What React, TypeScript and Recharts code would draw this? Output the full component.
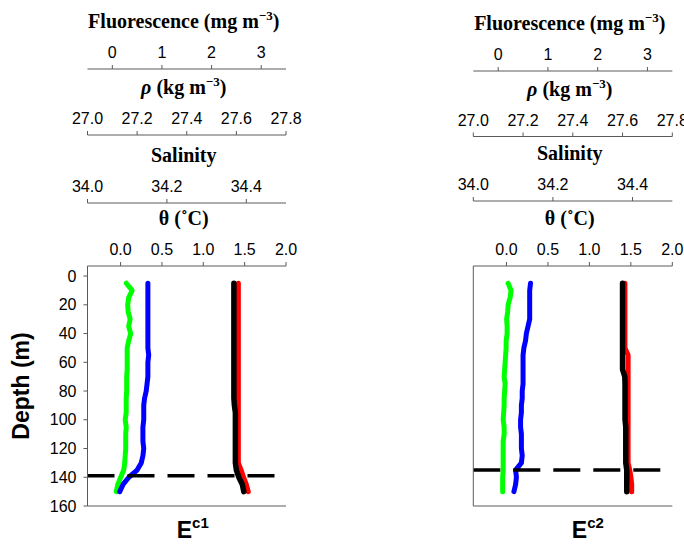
import React from "react";
import { LineChart, Line, XAxis, YAxis, ReferenceLine } from "recharts";

// depth (m) of each sample
const depths = [
  5, 10, 15, 20, 25, 30, 35, 40, 45, 50, 55, 60, 65, 70, 75, 80, 85, 90, 95,
  100, 105, 110, 115, 120, 125, 130, 135, 140, 145, 150,
];

// station E^c1
const fluorE1 = [
  0.28, 0.4, 0.33, 0.31, 0.32, 0.36, 0.33, 0.37, 0.33, 0.3, 0.3, 0.3, 0.3,
  0.29, 0.29, 0.29, 0.28, 0.28, 0.28, 0.26, 0.28, 0.27, 0.27, 0.27, 0.26, 0.25,
  0.23, 0.17, 0.11, 0.08,
];
const thetaE1 = [
  0.33, 0.33, 0.33, 0.33, 0.33, 0.33, 0.33, 0.33, 0.33, 0.33, 0.34, 0.33, 0.33,
  0.33, 0.32, 0.31, 0.29, 0.28, 0.28, 0.28, 0.27, 0.27, 0.27, 0.28, 0.27, 0.25,
  0.2, 0.1, 0.03, -0.01,
];
const rhoE1 = [
  27.59, 27.59, 27.59, 27.59, 27.59, 27.59, 27.59, 27.59, 27.59, 27.59, 27.59,
  27.59, 27.59, 27.59, 27.59, 27.59, 27.59, 27.592, 27.596, 27.596, 27.596,
  27.596, 27.596, 27.596, 27.596, 27.596, 27.6, 27.61, 27.624, 27.63,
];
const salE1 = [
  34.38, 34.38, 34.38, 34.38, 34.38, 34.38, 34.38, 34.38, 34.38, 34.38, 34.38,
  34.38, 34.38, 34.38, 34.38, 34.38, 34.38, 34.38, 34.38, 34.38, 34.38, 34.38,
  34.38, 34.38, 34.38, 34.38, 34.387, 34.393, 34.4, 34.405,
];

// station E^c2
const fluorE2 = [
  0.2, 0.26, 0.24, 0.2, 0.19, 0.17, 0.18, 0.18, 0.16, 0.16, 0.15, 0.14, 0.13,
  0.12, 0.14, 0.13, 0.12, 0.12, 0.11, 0.1, 0.12, 0.12, 0.1, 0.1, 0.1, 0.1, 0.1,
  0.09, 0.09, 0.09,
];
const thetaE2 = [
  0.29, 0.28, 0.28, 0.28, 0.28, 0.28, 0.26, 0.24, 0.23, 0.21, 0.2, 0.2, 0.2,
  0.2, 0.2, 0.19, 0.19, 0.18, 0.18, 0.17, 0.17, 0.18, 0.18, 0.18, 0.19, 0.18,
  0.11, 0.12, 0.11, 0.09,
];
const rhoE2 = [
  27.6, 27.6, 27.6, 27.6, 27.6, 27.6, 27.6, 27.6, 27.6, 27.6, 27.6, 27.6, 27.6,
  27.609, 27.61, 27.61, 27.61, 27.61, 27.61, 27.61, 27.613, 27.613, 27.613,
  27.613, 27.613, 27.613, 27.617, 27.617, 27.617, 27.617,
];
const salE2 = [
  34.381, 34.381, 34.381, 34.381, 34.381, 34.381, 34.381, 34.381, 34.381,
  34.381, 34.389, 34.389, 34.389, 34.389, 34.389, 34.389, 34.389, 34.389,
  34.389, 34.389, 34.389, 34.389, 34.389, 34.389, 34.389, 34.389, 34.393,
  34.396, 34.398, 34.398,
];

const mixedDepthE1 = 139;
const mixedDepthE2 = 135;

const depthTicks = [0, 20, 40, 60, 80, 100, 120, 140, 160];
const fluorTicks = [0, 1, 2, 3];
const rhoTicks = [27.0, 27.2, 27.4, 27.6, 27.8];
const salTicks = [34.0, 34.2, 34.4];
const thetaTicks = [0.0, 0.5, 1.0, 1.5, 2.0];

const SANS = "'Liberation Sans', Arial, sans-serif";
const SERIF = "'Liberation Serif', 'Times New Roman', serif";
const AXIS = "#5a5a5a";

// axis ids: recharts stacks top axes by id, first one next to the plot
const ID_THETA = "ax1theta";
const ID_SAL = "ax2sal";
const ID_RHO = "ax3rho";
const ID_FLUOR = "ax4fluor";

const toRows = (f: number[], t: number[], r: number[], s: number[]) =>
  depths.map((depth, i) => ({ depth, fluor: f[i], theta: t[i], rho: r[i], sal: s[i] }));

const sup = (txt: string) => (
  <>
    <tspan dy={-8} fontSize={13}>
      {txt}
    </tspan>
    <tspan dy={8}>)</tspan>
  </>
);

const titles: Record<string, React.ReactNode> = {
  fluor: <>Fluorescence (mg m{sup("−3")}</>,
  rho: (
    <>
      <tspan fontStyle="italic">ρ</tspan> (kg m{sup("−3")}
    </>
  ),
  sal: "Salinity",
  theta: "θ (˚C)",
};

const axisTitle = (key: string, dx: number) => (props: any) => {
  const vb = props.viewBox;
  return (
    <text
      x={vb.x + vb.width / 2 + dx}
      y={vb.y + vb.height - 41}
      textAnchor="middle"
      fontFamily={SERIF}
      fontWeight="bold"
      fontSize={20}
      fill="#000"
    >
      {titles[key]}
    </text>
  );
};

const stationLabel = (num: string, dx: number) => (props: any) => {
  const vb = props.viewBox;
  return (
    <text
      x={vb.x + vb.width / 2 + dx}
      y={vb.y + 32}
      fontFamily={SANS}
      fontWeight="bold"
      fontSize={23}
      fill="#000"
    >
      E
      <tspan dy={-10} fontSize={15}>
        {"c" + num}
      </tspan>
    </text>
  );
};

const depthTitle = () => (
  <text
    x={29}
    y={386}
    transform="rotate(-90, 29, 386)"
    textAnchor="middle"
    fontFamily={SANS}
    fontWeight="bold"
    fontSize={23}
    fill="#000"
  >
    Depth (m)
  </text>
);

const tickStyle = { fontSize: 16, fill: "#000", fontFamily: SANS };

type PanelProps = {
  rows: any[];
  heights: number[]; // fluor, rho, sal, theta (top to bottom)
  top: number;
  left: number;
  width: number;
  yWidth: number;
  right: number;
  showDepth: boolean;
  station: string;
  stationDx: number;
  mixed: number;
};

const topAxis = (
  id: string,
  title: string,
  h: number,
  domain: number[],
  ticks: number[],
  fmt?: (v: number) => string
) => (
  <XAxis
    key={id}
    xAxisId={id}
    orientation="top"
    type="number"
    height={h}
    domain={domain}
    allowDataOverflow
    ticks={ticks}
    interval={0}
    tickFormatter={fmt}
    tickSize={4}
    tickMargin={7}
    tick={tickStyle}
    axisLine={{ stroke: AXIS }}
    tickLine={{ stroke: AXIS }}
    label={axisTitle(title, -3)}
  />
);

const Panel = (p: PanelProps) => (
  <div style={{ position: "absolute", left: p.left, top: 0 }}>
    <LineChart
      width={p.width}
      height={545}
      layout="vertical"
      data={p.rows}
      margin={{ top: p.top, right: p.right, bottom: 0, left: 0 }}
    >
      {topAxis(ID_THETA, "theta", p.heights[3], [-0.4, 2.0], thetaTicks, (v) => v.toFixed(1))}
      {topAxis(ID_SAL, "sal", p.heights[2], [34.0, 34.5], salTicks, (v) => v.toFixed(1))}
      {topAxis(ID_RHO, "rho", p.heights[1], [27.0, 27.8], rhoTicks, (v) => v.toFixed(1))}
      {topAxis(ID_FLUOR, "fluor", p.heights[0], [-0.5, 3.5], fluorTicks)}
      <XAxis
        xAxisId="frame"
        orientation="bottom"
        type="number"
        domain={[0, 1]}
        height={39}
        tick={false}
        tickLine={false}
        axisLine={{ stroke: AXIS }}
        label={stationLabel(p.station, p.stationDx)}
      />
      <YAxis
        dataKey="depth"
        type="number"
        domain={[-7, 160]}
        allowDataOverflow
        ticks={depthTicks}
        interval={0}
        width={p.yWidth}
        tickSize={4}
        tickMargin={7}
        tick={p.showDepth ? tickStyle : false}
        tickLine={p.showDepth ? { stroke: AXIS } : false}
        axisLine={{ stroke: AXIS }}
        label={p.showDepth ? depthTitle : undefined}
      />
      <YAxis
        yAxisId="frame"
        orientation="right"
        type="number"
        domain={[0, 1]}
        width={0}
        tick={false}
        tickLine={false}
        axisLine={{ stroke: AXIS }}
      />
      <Line xAxisId={ID_FLUOR} dataKey="fluor" stroke="#00ff00" strokeWidth={5} strokeLinecap="round" strokeLinejoin="round" dot={false} isAnimationActive={false} />
      <Line xAxisId={ID_THETA} dataKey="theta" stroke="#0000ff" strokeWidth={5} strokeLinecap="round" strokeLinejoin="round" dot={false} isAnimationActive={false} />
      <Line xAxisId={ID_SAL} dataKey="sal" stroke="#ff0000" strokeWidth={5} strokeLinecap="round" strokeLinejoin="round" dot={false} isAnimationActive={false} />
      <Line xAxisId={ID_RHO} dataKey="rho" stroke="#000000" strokeWidth={5.5} strokeLinecap="round" strokeLinejoin="round" dot={false} isAnimationActive={false} />
      <ReferenceLine xAxisId={ID_THETA} y={p.mixed} stroke="#000" strokeWidth={3.5} strokeDasharray="27 13" />
    </LineChart>
  </div>
);

export default function App() {
  return (
    <div style={{ position: "fixed", left: 0, top: 0, width: 684, height: 545, background: "#fff", overflow: "hidden" }}>
      <Panel
        rows={toRows(fluorE1, thetaE1, rhoE1, salE1)}
        heights={[66, 66, 68, 63]}
        top={3}
        left={0}
        width={380}
        yWidth={87.5}
        right={94}
        showDepth
        station="1"
        stationDx={-10}
        mixed={mixedDepthE1}
      />
      <Panel
        rows={toRows(fluorE2, thetaE2, rhoE2, salE2)}
        heights={[66, 65.5, 64.5, 65]}
        top={5}
        left={380}
        width={304}
        yWidth={93.3}
        right={11.7}
        showDepth={false}
        station="2"
        stationDx={-1}
        mixed={mixedDepthE2}
      />
    </div>
  );
}
